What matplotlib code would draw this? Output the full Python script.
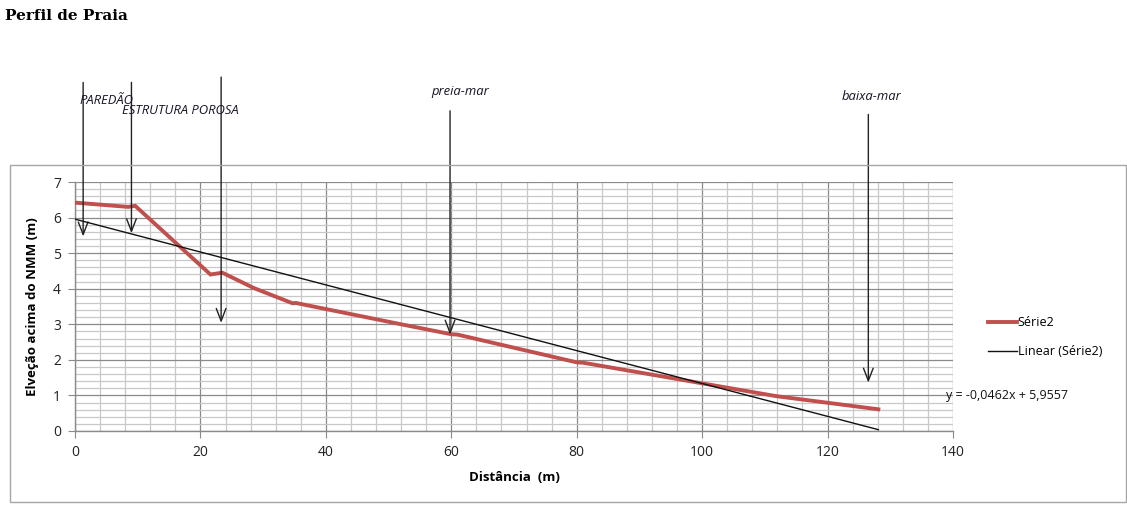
import matplotlib
matplotlib.use("Agg")
import matplotlib.pyplot as plt
from matplotlib.patches import Rectangle
from matplotlib.ticker import MultipleLocator
import numpy as np

# Beach profile: distance (m) vs elevation above mean sea level (m)
distancia = [0, 8.5, 9.6, 21.6, 23.5, 28.5, 34.7, 35.2, 52, 60, 61, 80, 81, 111.8, 128.1]
elevacao = [6.42, 6.30, 6.33, 4.40, 4.45, 4.02, 3.59, 3.60, 3.00, 2.72, 2.71, 1.93, 1.92, 0.98, 0.61]

# Linear trend y = a*x + b
trend_a = -0.0462
trend_b = 5.9557
trend_label = "y = -0,0462x + 5,9557"

# Annotated points: label, x of arrow, arrow tip elevation, arrow top elevation
marcos_nome = ["PAREDÃO", "ESTRUTURA POROSA", "preia-mar", "baixa-mar"]
seta_x = [1.3, 9.0, 23.3, 59.8, 126.5]
seta_ponta = [5.47, 5.56, 3.04, 2.71, 1.36]
seta_topo = [9.80, 9.80, 9.95, 9.00, 8.90]

RED = "#c0504d"

fig = plt.figure(figsize=(11.27, 5.08), dpi=100)
W, H = 1127, 508

# outer chart frame
fig.patches.append(Rectangle((10 / W, 1 - 502 / H), 1116 / W, (502 - 165) / H,
                             transform=fig.transFigure, fill=False,
                             edgecolor="#a6a6a6", linewidth=1.0))

fig.text(5 / W, 1 - 16 / H, "Perfil de Praia", family="DejaVu Serif",
         fontweight="bold", fontsize=11, va="center", ha="left")

ax = fig.add_axes([75 / W, 1 - 431 / H, (953 - 75) / W, (431 - 182) / H])
ax.set_xlim(0, 140)
ax.set_ylim(0, 7)

ax.xaxis.set_major_locator(MultipleLocator(20))
ax.xaxis.set_minor_locator(MultipleLocator(4))
ax.yaxis.set_major_locator(MultipleLocator(1))
ax.yaxis.set_minor_locator(MultipleLocator(0.2))
ax.grid(which="minor", color="#c8c8c8", linewidth=0.9)
ax.grid(which="major", color="#8a8a8a", linewidth=0.9)
ax.set_axisbelow(True)

for s in ["top", "right"]:
    ax.spines[s].set_visible(False)
for s in ["left", "bottom"]:
    ax.spines[s].set_color("#8a8a8a")
    ax.spines[s].set_linewidth(1.0)

ax.tick_params(which="major", length=5, color="#8a8a8a", labelsize=10,
               labelcolor="#222222", pad=5)
ax.tick_params(which="minor", length=0)
for lab in ax.get_xticklabels() + ax.get_yticklabels():
    lab.set_family("Open Sans")

ax.plot(distancia, elevacao, color=RED, linewidth=2.8, solid_joinstyle="miter",
        label="Série2", zorder=3)
xt = np.array([0, distancia[-1]])
ax.plot(xt, trend_a * xt + trend_b, color="#111111", linewidth=1.0,
        label="Linear (Série2)", zorder=4)

ax.set_xlabel("Distância  (m)", family="Open Sans", fontweight="bold",
              fontsize=9.5, labelpad=8)
ax.set_ylabel("Elveção acima do NMM (m)", family="Open Sans", fontweight="bold",
              fontsize=9.5, labelpad=10)

for x, y0, y1 in zip(seta_x, seta_ponta, seta_topo):
    ax.annotate("", xy=(x, y0), xytext=(x, y1), annotation_clip=False,
                arrowprops=dict(arrowstyle="->,head_length=0.9,head_width=0.35",
                                color="#222222", linewidth=1.0,
                                shrinkA=0, shrinkB=0))

# marker labels above the plot, in figure pixels
label_pos = [(79, 100), (122, 111), (431, 91), (842, 97)]
for nome, (px, py) in zip(marcos_nome, label_pos):
    fig.text(px / W, 1 - py / H, nome, family="Open Sans", style="italic",
             fontsize=9.4, color="#151525", ha="left", va="center")

leg = ax.legend(loc="upper left", bbox_to_anchor=(977 / W, 1 - 305 / H),
                bbox_transform=fig.transFigure, frameon=False,
                handlelength=2.3, handletextpad=0.05, labelspacing=1.25,
                prop={"family": "Open Sans", "size": 9})

fig.text(946 / W, 1 - 395 / H, trend_label, family="Open Sans", fontsize=9,
         ha="left", va="center", color="#111111")

fig.savefig("out.png", dpi=100)
